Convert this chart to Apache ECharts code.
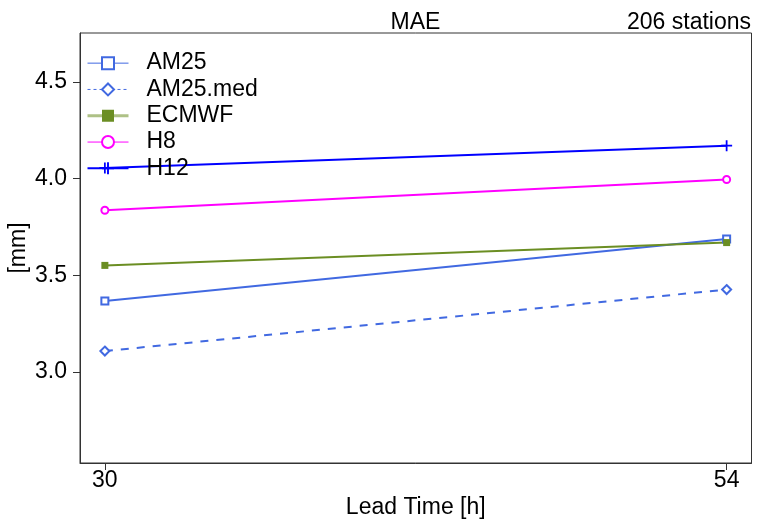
<!DOCTYPE html>
<html>
<head>
<meta charset="utf-8">
<script src="https://cdn.jsdelivr.net/npm/echarts@6/dist/echarts.min.js"></script>
<style>html,body{margin:0;padding:0;background:#fff}#c{width:758px;height:520px}</style>
</head>
<body>
<div id="c"></div>
<script>
const leadTimes = [30, 54];
const xTicks = [30, 54];
const yTicks = [3.0, 3.5, 4.0, 4.5];
const seriesNames = ['AM25', 'AM25.med', 'ECMWF', 'H8', 'H12'];
const am25 = [3.367, 3.688];
const am25med = [3.108, 3.426];
const ecmwf = [3.551, 3.669];
const h8 = [3.836, 3.995];
const h12 = [4.055, 4.170];
const titleText = 'MAE';
const stationsText = '206 stations';

const FONT = '"Liberation Sans", Arial, sans-serif';
const FS = 23;
const plusPath = 'path://M4.2,0H5.8V4.2H10V5.8H5.8V10H4.2V5.8H0V4.2H4.2Z';

function pts(vals){ return leadTimes.map((x,i)=>[x, vals[i]]); }

const chart = echarts.init(document.getElementById('c'), null, {renderer:'canvas'});
const option = {
  animation: false,
  backgroundColor: '#fff',
  textStyle: {fontFamily: FONT},
  title: [
    {text: titleText, left: 415.5, textAlign: 'center', top: 11, padding: 0,
     textStyle: {fontSize: FS, fontWeight: 'normal', color: '#000', fontFamily: FONT}},
    {text: stationsText, right: 7, top: 11, padding: 0,
     textStyle: {fontSize: FS, fontWeight: 'normal', color: '#000', fontFamily: FONT}}
  ],
  grid: {left: 80, top: 33, right: 6.5, bottom: 57, show: true, borderColor: '#333', borderWidth: 1,
    backgroundColor: 'transparent', containLabel: false, outerBoundsMode: 'none'},
  legend: {
    orient: 'vertical', left: 86, top: 50, padding: 0, itemWidth: 41, itemHeight: 15, itemGap: 0,
    textStyle: {fontSize: FS, color: '#000', fontFamily: FONT, lineHeight: 26.3, padding: [0,0,0,13]},
    data: [
      {name: 'AM25', itemStyle: {borderWidth: 1}, lineStyle: {width: 1}},
      {name: 'AM25.med', itemStyle: {borderWidth: 1}, lineStyle: {width: 1, type: [3,3]}},
      {name: 'ECMWF', itemStyle: {borderWidth: 0}, lineStyle: {width: 3, opacity: 0.55}},
      {name: 'H8', itemStyle: {borderWidth: 1}, lineStyle: {width: 1}},
      {name: 'H12', itemStyle: {borderWidth: 0}, lineStyle: {width: 2}}
    ]
  },
  xAxis: {
    type: 'value', min: 29.04, max: 54.96,
    name: 'Lead Time [h]', nameLocation: 'middle', nameGap: 33, nameMoveOverlap: false,
    nameTextStyle: {fontSize: FS, color: '#000', fontFamily: FONT},
    axisLine: {show: true, lineStyle: {color: '#333', width: 1}},
    axisTick: {show: true, length: 7, lineStyle: {color: '#333'}, customValues: xTicks},
    axisLabel: {fontSize: FS, color: '#000', margin: 6, customValues: xTicks, fontFamily: FONT},
    splitLine: {show: false}
  },
  yAxis: {
    type: 'value', min: 2.529, max: 4.753,
    name: '[mm]', nameLocation: 'middle', nameGap: 50, nameMoveOverlap: false,
    nameTextStyle: {fontSize: FS, color: '#000', fontFamily: FONT},
    axisLine: {show: true, lineStyle: {color: '#333', width: 1}},
    axisTick: {show: true, length: 7, lineStyle: {color: '#333'}, customValues: yTicks},
    axisLabel: {fontSize: FS, color: '#000', margin: 13, customValues: yTicks, fontFamily: FONT,
      formatter: v => v.toFixed(1)},
    splitLine: {show: false}
  },
  series: [
    {name: 'AM25', type: 'line', data: pts(am25), symbol: 'emptyRect', symbolSize: 7,
     color: '#4169E1', lineStyle: {width: 2, color: '#4169E1'}, itemStyle: {color: '#4169E1', borderWidth: 2}},
    {name: 'AM25.med', type: 'line', data: pts(am25med), symbol: 'emptyDiamond', symbolSize: 9,
     color: '#4169E1', lineStyle: {width: 2, type: [8,8], color: '#4169E1'}, itemStyle: {color: '#4169E1', borderWidth: 2}},
    {name: 'ECMWF', type: 'line', data: pts(ecmwf), symbol: 'rect', symbolSize: 7,
     color: '#6B8E23', lineStyle: {width: 2, color: '#6B8E23'}, itemStyle: {color: '#6B8E23'}},
    {name: 'H8', type: 'line', data: pts(h8), symbol: 'emptyCircle', symbolSize: 7,
     color: '#FF00FF', lineStyle: {width: 2, color: '#FF00FF'}, itemStyle: {color: '#FF00FF', borderWidth: 2}},
    {name: 'H12', type: 'line', data: pts(h12), symbol: plusPath, symbolSize: 11,
     color: '#0000FF', lineStyle: {width: 2, color: '#0000FF'}, itemStyle: {color: '#0000FF'}}
  ]
};
chart.setOption(option);
</script>
</body>
</html>
